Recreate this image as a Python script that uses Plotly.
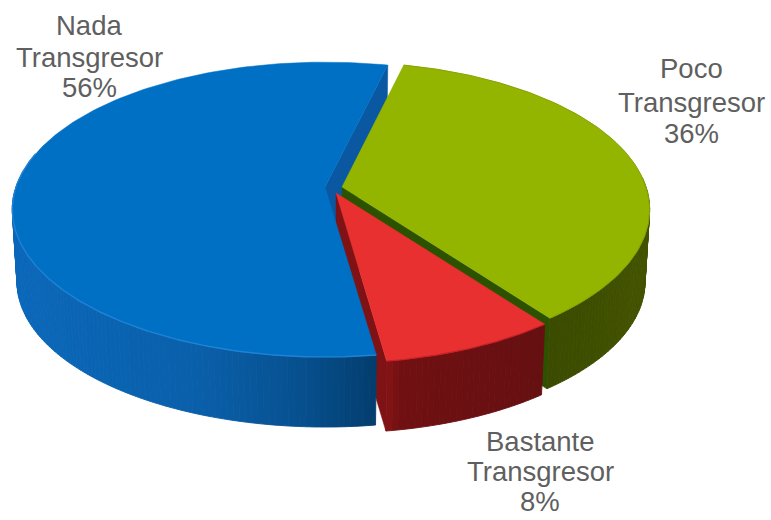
import numpy as np
import plotly.graph_objects as go

categories = ["Poco Transgresor", "Bastante Transgresor", "Nada Transgresor"]
values = [36, 8, 56]
label_lines = [["Poco", "Transgresor", "36%"], ["Bastante", "Transgresor", "8%"], ["Nada", "Transgresor", "56%"]]
label_x = [691, 540, 89]
label_y = [[68, 102, 133], [441, 471, 501], [25, 57, 87]]
top_colors = ["#93b500", "#e93030", "#0070c4"]
radial_colors = ["#2c5200", "#7e1214", "#0a58a2"]
rim_stops = [
    [(540, "#3a4a00"), (650, "#435300")],
    [(385, "#8a1416"), (400, "#701012"), (545, "#661012")],
    [(12, "#0b68ba"), (200, "#0a5fa9"), (300, "#07508f"), (372, "#033e6f")],
]
apex = [(342, 187), (336, 193), (325, 187)]
radius = [304, 305, 309]

START = 76.5
K, B = 0.153, 144.0
DEPTH, SHRINK = 70.0, 0.985


def project(i, theta, r=1.0, low=False):
    t = np.radians(theta)
    u, v = r * np.cos(t), r * np.sin(t)
    w = 1 + K * v
    s = SHRINK if low else 1.0
    x = apex[i][0] + radius[i] * s * u / w
    y = apex[i][1] - B * s * v / w + (DEPTH + (B / (1 - K)) * (1 - SHRINK) if low else 0)
    return x, y


def hexrgb(h):
    return np.array([int(h[j:j + 2], 16) for j in (1, 3, 5)], float)


def rim_color(i, x):
    xs = [p[0] for p in rim_stops[i]]
    cs = np.array([hexrgb(p[1]) for p in rim_stops[i]])
    c = [np.interp(x, xs, cs[:, k]) for k in range(3)]
    return "rgb(%d,%d,%d)" % tuple(int(round(a)) for a in c)


# slice angle spans, clockwise from START
spans = []
a = START
for val in values:
    b = a - val / sum(values) * 360
    spans.append((a, b))
    a = b

fig = go.Figure()


def poly(xs, ys, color, line=0.8):
    fig.add_trace(go.Scatter(x=list(xs), y=list(ys), mode="lines", fill="toself", fillcolor=color,
                             line=dict(color=color, width=line), hoverinfo="skip", showlegend=False))


def edge(xs, ys, color, width):
    fig.add_trace(go.Scatter(x=list(xs), y=list(ys), mode="lines", line=dict(color=color, width=width),
                             hoverinfo="skip", showlegend=False))


def radial_wall(i, theta):
    xr, yr = project(i, theta)
    xl, yl = project(i, theta, low=True)
    xa, ya = apex[i]
    xb, yb = project(i, theta, r=0.0, low=True)
    poly([xa, xr, xl, xb, xa], [ya, yr, yl, yb, ya], radial_colors[i], 0.5)


def outer_wall(i):
    a0, a1 = spans[i]
    edges = np.linspace(a0, a1, int(abs(a1 - a0)) + 2)
    for e0, e1 in zip(edges[:-1], edges[1:]):
        m = (e0 + e1) / 2
        if np.sin(np.radians(m)) > 0.06:
            continue  # back of the rim is hidden
        th = np.linspace(e0, e1, 3)
        xt, yt = project(i, th)
        xb, yb = project(i, th[::-1], low=True)
        poly(np.r_[xt, xb, xt[0]], np.r_[yt, yb, yt[0]], rim_color(i, xt.mean()), 0.9)


def top_face(i):
    a0, a1 = spans[i]
    th = np.linspace(a0, a1, 160)
    x, y = project(i, th)
    poly(np.r_[apex[i][0], x, apex[i][0]], np.r_[apex[i][1], y, apex[i][1]], top_colors[i], 0.5)


# painter's order, back to front
radial_wall(2, spans[2][1])  # blue wall seen behind the green slice
radial_wall(0, spans[0][1])  # green wall seen above the red slice
radial_wall(1, spans[1][1])  # red wall seen beside the blue slice
outer_wall(2)
top_face(2)
outer_wall(0)
top_face(0)
outer_wall(1)
top_face(1)

# soft highlights along the front rims
th = np.linspace(spans[2][0], spans[2][0] - 112, 200)
hx, hy = project(2, th)
edge(hx, hy, "#1f82d4", 1.4)
th = np.linspace(spans[1][0], spans[1][1], 40)
hx, hy = project(1, th)
edge(hx, hy, "#c82226", 1.2)
th = np.linspace(spans[0][0], spans[0][1], 120)
hx, hy = project(0, th)
edge(hx, hy, "#86a206", 1.0)

for lines, x0, ys in zip(label_lines, label_x, label_y):
    for txt, y0 in zip(lines, ys):
        fig.add_annotation(x=x0, y=y0, text=txt, showarrow=False, xanchor="center", yanchor="middle",
                           font=dict(family="Liberation Sans", size=27.5, color="#5f5f5f"))

fig.update_layout(
    width=771, height=520, margin=dict(l=0, r=0, t=0, b=0),
    paper_bgcolor="white", plot_bgcolor="white", showlegend=False,
    xaxis=dict(range=[0, 771], visible=False, fixedrange=True),
    yaxis=dict(range=[520, 0], visible=False, fixedrange=True),
)
fig.write_html("out.html", config={"displayModeBar": False},
               post_script="document.body.style.margin='0';document.body.style.overflow='hidden';")
